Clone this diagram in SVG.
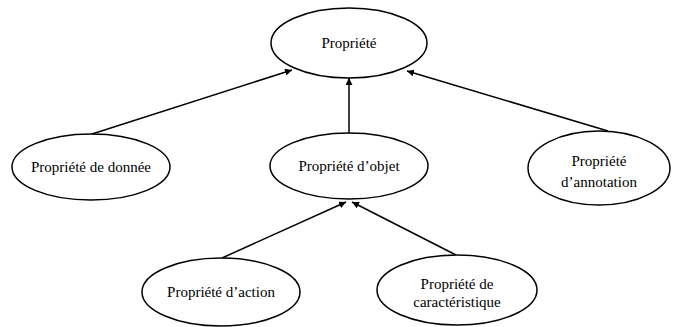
<svg xmlns="http://www.w3.org/2000/svg" width="676" height="327" viewBox="0 0 676 327">
<style>
.n{fill:#fff;stroke:#000;stroke-width:1.5}
.t{font-family:"Liberation Serif","Times New Roman",serif;font-size:15px;fill:#000;text-anchor:middle}
.c{stroke:#000;stroke-width:1.5;fill:none;marker-end:url(#a)}
</style>
<defs>
<marker id="a" viewBox="0 0 10 10" refX="10" refY="5" markerWidth="7" markerHeight="7" markerUnits="userSpaceOnUse" orient="auto">
<path d="M0,0 L10,5 L0,10 z" fill="#000"/>
</marker>
</defs>
<rect width="676" height="327" fill="#fff"/>
<g id="connectors">
<line class="c" x1="92" y1="134" x2="292" y2="70"/>
<line class="c" x1="349" y1="133" x2="349" y2="78"/>
<line class="c" x1="608" y1="131" x2="407" y2="71"/>
<line class="c" x1="222" y1="258" x2="346" y2="202"/>
<line class="c" x1="456" y1="255" x2="352" y2="202"/>
</g>
<g id="propriete">
<ellipse class="n" cx="349" cy="43" rx="78" ry="35"/>
<text class="t" x="349" y="48">Propriété</text>
</g>
<g id="donnee">
<ellipse class="n" cx="91" cy="167" rx="79" ry="33"/>
<text class="t" x="91" y="172">Propriété de donnée</text>
</g>
<g id="objet">
<ellipse class="n" cx="349" cy="166" rx="79" ry="33"/>
<text class="t" x="349" y="171">Propriété d’objet</text>
</g>
<g id="annotation">
<ellipse class="n" cx="599" cy="168" rx="71" ry="37"/>
<text class="t" x="599" y="166">Propriété</text>
<text class="t" x="599" y="187">d’annotation</text>
</g>
<g id="action">
<ellipse class="n" cx="221" cy="292" rx="79" ry="34"/>
<text class="t" x="221" y="297">Propriété d’action</text>
</g>
<g id="caracteristique">
<ellipse class="n" cx="457" cy="290" rx="80" ry="35"/>
<text class="t" x="457" y="289">Propriété de</text>
<text class="t" x="457" y="307">caractéristique</text>
</g>
</svg>
